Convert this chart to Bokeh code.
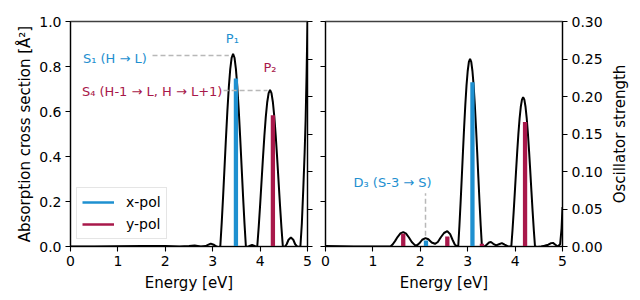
import math
from bokeh.plotting import figure
from bokeh.models import (Range1d, LinearAxis, FixedTicker, CustomJSTickFormatter,
                          NumeralTickFormatter, Legend, LegendItem, Label, Title)
from bokeh.layouts import row
from bokeh.embed import file_html
from bokeh.resources import INLINE

FONT = "DejaVu Sans"
BLUE = "#1e90d0"
RED = "#a8184a"
GRAY = "#b8b8b8"

# ---------------- data ----------------
X_TICKS = [0, 1, 2, 3, 4, 5]
Y_TICKS = [0.0, 0.2, 0.4, 0.6, 0.8, 1.0]
F_TICKS = [0.0, 0.05, 0.10, 0.15, 0.20, 0.25, 0.30]

# left panel: absorption cross section (curve)
LEFT_E = [0.00, 0.50, 1.00, 1.50, 2.00, 2.30, 2.50, 2.62, 2.75, 2.85, 2.90, 2.96, 3.02, 3.08, 3.12,
          3.16, 3.19, 3.22, 3.25, 3.28, 3.31, 3.34, 3.37, 3.40, 3.43, 3.46, 3.49, 3.52, 3.55, 3.58,
          3.61, 3.64, 3.67, 3.70, 3.74, 3.79, 3.83, 3.87, 3.91,
          3.94, 3.97, 4.00, 4.03, 4.06, 4.09, 4.12, 4.15, 4.18, 4.21, 4.24, 4.27, 4.30, 4.33, 4.36,
          4.39, 4.42, 4.45, 4.48, 4.52, 4.56, 4.60, 4.65, 4.70, 4.74, 4.78, 4.82, 4.85, 4.88, 4.91,
          4.94, 4.96, 4.98, 5.00]
LEFT_SIGMA = [0.000, 0.000, 0.001, 0.002, 0.002, 0.000, 0.002, 0.004, 0.000, 0.002, 0.007, 0.013, 0.008, 0.000, -0.003,
              0.000, 0.105, 0.225, 0.354, 0.483, 0.604, 0.708, 0.788, 0.839, 0.856, 0.839, 0.788, 0.708, 0.604, 0.483,
              0.354, 0.225, 0.105, 0.000, -0.002, 0.004, 0.007, 0.004, -0.001,
              0.000, 0.085, 0.183, 0.288, 0.393, 0.491, 0.576, 0.641, 0.682, 0.696, 0.682, 0.641, 0.576, 0.491, 0.393,
              0.288, 0.183, 0.085, 0.000, -0.002, 0.010, 0.030, 0.040, 0.030, 0.010, 0.000, -0.002, 0.000, 0.100, 0.250,
              0.420, 0.560, 0.760, 1.000]

# left panel: oscillator strengths (sticks)
LEFT_STICK_E = [3.49, 4.27]
LEFT_STICK_F = [0.224, 0.175]
LEFT_STICK_POL = ["x", "y"]

# right panel: absorption cross section (curve)
RIGHT_E = [0.00, 0.30, 0.60, 1.00, 1.30, 1.37, 1.42, 1.47, 1.52, 1.58, 1.64, 1.70, 1.76, 1.82, 1.88,
           1.93, 1.98, 2.04, 2.11, 2.17, 2.24, 2.31, 2.37, 2.43, 2.50, 2.57, 2.63, 2.68, 2.73, 2.77,
           2.80, 2.825, 2.85, 2.875, 2.90, 2.925, 2.95, 2.975, 3.00, 3.025, 3.05, 3.075, 3.10, 3.125,
           3.15, 3.175, 3.20, 3.225, 3.25, 3.275, 3.30, 3.34, 3.40, 3.45, 3.49, 3.54, 3.60, 3.66, 3.72,
           3.78, 3.85, 3.92, 3.945, 3.97, 3.995, 4.02, 4.045, 4.07, 4.095, 4.12, 4.145, 4.17, 4.195,
           4.22, 4.245, 4.27, 4.295, 4.32, 4.345, 4.37, 4.395, 4.42, 4.47, 4.55, 4.62, 4.70, 4.76,
           4.80, 4.85, 4.90, 4.95, 4.98, 5.00]
RIGHT_SIGMA = [0.002, 0.001, 0.000, 0.000, 0.000, 0.000, 0.010, 0.025, 0.042, 0.058, 0.064, 0.057, 0.040, 0.020, 0.007,
               0.005, 0.014, 0.030, 0.037, 0.032, 0.018, 0.012, 0.020, 0.040, 0.060, 0.068, 0.055, 0.030, 0.008, 0.002,
               0.000, 0.091, 0.195, 0.307, 0.421, 0.531, 0.631, 0.716, 0.780, 0.821, 0.834, 0.821, 0.780, 0.716,
               0.631, 0.531, 0.421, 0.307, 0.195, 0.091, 0.000, -0.002, 0.008, 0.018, 0.020, 0.012, 0.005, 0.010, 0.015,
               0.008, 0.000, 0.000, 0.072, 0.155, 0.244, 0.335, 0.423, 0.503, 0.570, 0.621, 0.653, 0.664, 0.653,
               0.621, 0.570, 0.503, 0.423, 0.335, 0.244, 0.155, 0.072, 0.000, -0.002, 0.000, 0.003, 0.008, 0.015,
               0.016, 0.008, 0.000, 0.010, 0.080, 0.175]

RIGHT_STICK_E = [1.64, 2.12, 2.57, 3.10, 3.30, 4.21]
RIGHT_STICK_F = [0.017, 0.008, 0.0133, 0.219, 0.0036, 0.166]
RIGHT_STICK_POL = ["y", "x", "y", "x", "y", "y"]

POL_COLOR = {"x": BLUE, "y": RED}


def style_axis(ax, show_labels=True):
    ax.axis_line_color = "black"
    ax.axis_line_width = 1.1
    ax.major_tick_line_color = "black"
    ax.major_tick_line_width = 1.1
    ax.major_tick_out = 5
    ax.major_tick_in = 0
    ax.minor_tick_line_color = None
    ax.major_label_text_font = FONT
    ax.major_label_text_font_size = "14px"
    ax.major_label_text_color = "black"
    ax.major_label_standoff = 4
    ax.axis_label_text_font = FONT
    ax.axis_label_text_font_size = "15px"
    ax.axis_label_text_font_style = "normal"
    ax.axis_label_text_color = "black"
    ax.axis_label_standoff = 6
    if not show_labels:
        ax.formatter = CustomJSTickFormatter(code="return ''")
        ax.major_label_standoff = 0


def make_fig(border_left, border_right, left_labels, right_labels):
    p = figure(frame_width=237, frame_height=225,
               x_range=Range1d(0, 5), y_range=Range1d(0, 1),
               output_backend="svg", toolbar_location=None,
               min_border_left=border_left, min_border_right=border_right,
               min_border_top=21, min_border_bottom=54)
    p.extra_y_ranges = {"osc": Range1d(0, 0.3)}
    p.xgrid.visible = False
    p.ygrid.visible = False
    p.outline_line_color = "#404040"
    p.outline_line_width = 1.5
    p.background_fill_color = "white"
    p.border_fill_color = "white"

    xax = p.below[0]
    xax.ticker = FixedTicker(ticks=X_TICKS)
    xax.formatter = NumeralTickFormatter(format="0")
    xax.axis_label = "Energy [eV]"
    style_axis(xax)
    xax.axis_label_standoff = 5

    lax = p.left[0]
    lax.ticker = FixedTicker(ticks=Y_TICKS)
    lax.formatter = NumeralTickFormatter(format="0.0")
    style_axis(lax, left_labels)

    rax = LinearAxis(y_range_name="osc", ticker=FixedTicker(ticks=F_TICKS),
                     formatter=NumeralTickFormatter(format="0.00"))
    style_axis(rax, right_labels)
    p.add_layout(rax, "right")
    return p, lax, rax


def draw_sticks(p, es, fs, pols):
    for e, f, pol in zip(es, fs, pols):
        p.segment(x0=[e], y0=[0], x1=[e], y1=[f], line_color=POL_COLOR[pol],
                  line_width=4.3, line_cap="butt", y_range_name="osc")


# ---------------- left panel ----------------
p1, l1, r1 = make_fig(70, 9, True, False)
l1.axis_label = "Absorption cross section [Å²]"
l1.axis_label_standoff = 2
p1.line(LEFT_E, LEFT_SIGMA, line_color="black", line_width=2)
draw_sticks(p1, LEFT_STICK_E, LEFT_STICK_F, LEFT_STICK_POL)

# dashed guides from labels to peaks
p1.line([1.73, 3.34], [0.849, 0.849], line_color=GRAY, line_width=1.5, line_dash="5 3")
p1.line([3.23, 4.155], [0.693, 0.693], line_color=GRAY, line_width=1.5, line_dash="5 3")

for txt, x, y, col, align in [
    ("P₁", 3.415, 0.924, BLUE, "center"),
    ("P₂", 4.21, 0.797, RED, "center"),
    ("S₁ (H → L)", 1.61, 0.837, BLUE, "right"),
    ("S₄ (H-1 → L, H → L+1)", 3.205, 0.690, RED, "right"),
]:
    p1.add_layout(Label(x=x, y=y, text=txt, text_color=col, text_font=FONT,
                        text_font_size="13px", text_align=align, text_baseline="middle"))

NAN = float("nan")
lx = p1.line([NAN], [NAN], line_color=BLUE, line_width=2.6)
ly = p1.line([NAN], [NAN], line_color=RED, line_width=2.6)
legend = Legend(items=[LegendItem(label="x-pol", renderers=[lx]),
                       LegendItem(label="y-pol", renderers=[ly])],
                location=(6, 7), border_line_color="#cccccc", border_line_width=1,
                background_fill_color="white", background_fill_alpha=0.85,
                label_text_font=FONT, label_text_font_size="14px", label_text_color="black",
                glyph_width=32, glyph_height=18, label_height=18, label_standoff=12,
                padding=5, spacing=4, margin=0)
p1.add_layout(legend)

# ---------------- right panel ----------------
p2, l2, r2 = make_fig(9, 46, False, True)
p2.line(RIGHT_E, RIGHT_SIGMA, line_color="black", line_width=2)
draw_sticks(p2, RIGHT_STICK_E, RIGHT_STICK_F, RIGHT_STICK_POL)
p2.line([2.11, 2.11], [0.048, 0.237], line_color=GRAY, line_width=1.5, line_dash="5 3")
p2.add_layout(Label(x=1.415, y=0.286, text="D₃ (S-3 → S)", text_color=BLUE, text_font=FONT,
                    text_font_size="13px", text_align="center", text_baseline="middle"))

# narrow strip carrying the right-axis title (reads bottom to top, as in the reference)
p3 = figure(frame_width=8, frame_height=225, output_backend="svg", toolbar_location=None,
            x_axis_location=None, y_axis_location=None,
            min_border_left=0, min_border_right=0, min_border_top=21, min_border_bottom=54)
p3.xgrid.visible = False
p3.ygrid.visible = False
p3.outline_line_color = None
p3.background_fill_color = "white"
p3.border_fill_color = "white"
p3.add_layout(Title(text="Oscillator strength", align="center", text_font=FONT,
                    text_font_size="15px", text_font_style="normal", text_color="black",
                    standoff=0, offset=0), "left")

layout = row(p1, p2, p3, spacing=0)
open("out.html", "w").write(file_html(layout, INLINE))
